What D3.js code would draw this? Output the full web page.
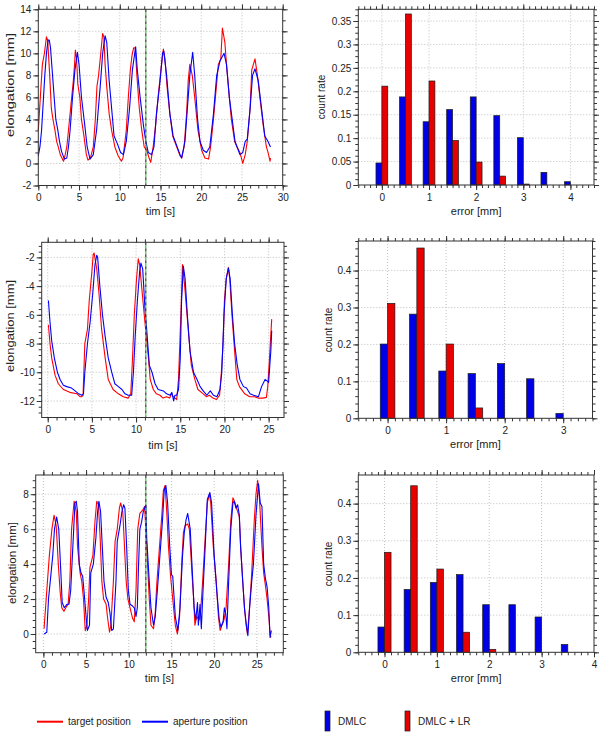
<!DOCTYPE html>
<html><head><meta charset="utf-8">
<script src="https://cdn.jsdelivr.net/npm/d3@7"></script>
<style>body{margin:0;background:#fff}</style>
</head><body><script>
// ---------- DATA ----------
const target1 = [[0,3],[0.25,6],[0.5,9],[0.75,10],[1.0,11.5],[1.15,11.2],[1.4,8],[1.6,5],[1.8,4],[2.05,3],[2.25,2],[2.45,1.5],[2.7,0.8],[2.9,0.5],[3.1,0.2],[3.3,0.8],[3.5,1.5],[3.7,3],[3.9,4.5],[4.1,6],[4.3,7.5],[4.45,9],[4.55,10.3],[4.7,9.5],[4.85,7.2],[5.1,6],[5.3,4],[5.6,2.5],[5.9,0.8],[6.1,0.3],[6.4,0.5],[6.75,1.5],[7.0,4],[7.2,7],[7.4,8],[7.6,9.5],[7.9,11.8],[8.05,11.5],[8.2,9],[8.4,7],[8.7,4.5],[9.0,3],[9.4,1.5],[9.8,0.7],[10.2,0.2],[10.4,0.5],[10.8,3],[11.05,6],[11.3,8.5],[11.5,9.8],[11.7,10.5],[11.9,10.5],[12.1,8],[12.4,5],[12.7,3],[13.0,1.5],[13.3,1.2],[13.6,0.5],[13.8,0.1],[14.1,1.5],[14.4,3.5],[14.7,6],[15.05,8.5],[15.35,10.4],[15.55,9.5],[15.8,7],[16.15,4.5],[16.5,2.5],[17.0,1.5],[17.4,0.7],[17.6,0.5],[17.9,1.5],[18.2,4.5],[18.4,7.5],[18.6,9],[18.9,8],[19.2,6],[19.6,3],[20.05,1.2],[20.45,0.5],[20.9,0.4],[21.15,1.5],[21.5,4],[21.8,6.5],[22.1,9],[22.4,9.5],[22.6,12.3],[22.9,11],[23.1,9],[23.45,6],[23.7,4],[24.1,2],[24.4,1.5],[24.75,1],[25.1,0],[25.4,0.8],[25.65,2],[26.0,5],[26.2,8.5],[26.6,9.5],[26.9,8],[27.2,6],[27.6,3.5],[28.0,1.5],[28.2,1],[28.45,0.2],[28.5,0.5]];
const aperture1 = [[0,0.7],[0.2,1.5],[0.4,3],[0.6,5.5],[0.8,8],[1.0,10],[1.2,11.2],[1.35,11.2],[1.5,10.5],[1.65,9],[1.85,7],[2.15,4],[2.4,3],[2.6,2],[2.85,1.1],[3.2,0.4],[3.5,0.5],[3.7,1.5],[3.9,3],[4.2,6],[4.5,8.5],[4.8,10.1],[5.0,9],[5.3,6],[5.7,3.5],[6.0,1.5],[6.35,0.4],[6.75,0.8],[7.15,3],[7.6,7],[7.9,10],[8.2,11.6],[8.4,11],[8.7,7.5],[9.0,5],[9.3,2.5],[9.7,1.8],[10.1,1],[10.45,0.8],[10.8,2],[11.2,5],[11.55,8.5],[11.95,10.6],[12.15,8.5],[12.5,6],[12.9,3.5],[13.2,2],[13.5,1],[13.9,0.8],[14.2,1.5],[14.5,4.5],[14.95,7.5],[15.25,10],[15.4,10.2],[15.75,8],[16.15,4.5],[16.55,2.5],[16.9,1.8],[17.4,0.8],[17.6,0.5],[18.0,2],[18.3,5],[18.6,8],[18.95,10.1],[19.2,8],[19.55,4],[19.85,2],[20.25,1.2],[20.65,1],[21.05,1.5],[21.5,4.5],[21.9,8],[22.3,9.3],[22.8,10],[23.1,9],[23.45,6],[23.8,4],[24.15,2],[24.4,1.5],[24.75,0.8],[25.1,1],[25.4,2],[25.65,2.2],[26.0,5],[26.3,8],[26.6,8.6],[27.0,7.5],[27.4,5],[27.8,2.5],[28.2,2],[28.5,1.5]];

const target2 = [[0.08,-6.7],[0.26,-8],[0.45,-9],[0.83,-10.2],[1.2,-10.8],[1.77,-11.2],[2.5,-11.4],[3.3,-11.5],[3.65,-11.7],[3.84,-11.7],[4.0,-11.6],[4.2,-8],[4.5,-7],[4.7,-5],[5.0,-3],[5.15,-1.8],[5.25,-1.7],[5.55,-2.8],[5.8,-4.5],[6.1,-7],[6.5,-9],[6.85,-10.5],[7.4,-11.2],[8.0,-11.5],[8.55,-11.7],[9.1,-11.8],[9.4,-11.5],[9.6,-9],[9.8,-6],[10.05,-3.5],[10.25,-2.1],[10.4,-2.5],[10.7,-4.5],[11.0,-6.5],[11.4,-9],[11.6,-10.5],[11.95,-11.2],[12.3,-11.5],[12.7,-11.6],[13.05,-11.8],[13.45,-11.7],[13.8,-11.8],[14.0,-11.5],[14.2,-11.7],[14.6,-11.9],[14.8,-10.5],[14.95,-8],[15.1,-5.5],[15.25,-2.5],[15.5,-4],[15.9,-7],[16.25,-9.5],[16.65,-10.5],[17.0,-11.2],[17.6,-11.5],[17.95,-11.7],[18.3,-11.6],[18.7,-11.8],[19.1,-11.9],[19.45,-11.6],[19.65,-10],[19.85,-8],[20.0,-5],[20.2,-3.5],[20.45,-2.7],[20.6,-3.5],[20.85,-6],[21.15,-8.5],[21.4,-10.5],[21.7,-11],[22.3,-11.5],[22.85,-11.7],[23.4,-11.7],[23.8,-11.8],[24.35,-11.8],[24.75,-11.75],[24.9,-11],[25.1,-9],[25.35,-6.3]];
const aperture2 = [[0.08,-5],[0.26,-6.5],[0.45,-7.8],[0.75,-9],[1.1,-10],[1.4,-10.5],[1.77,-10.9],[2.15,-11.0],[2.7,-11.1],[3.1,-11.3],[3.5,-11.5],[3.85,-11.6],[4.05,-11.5],[4.2,-10],[4.5,-8],[4.8,-6.5],[5.1,-4.5],[5.35,-2.5],[5.55,-1.85],[5.65,-2],[5.9,-4],[6.2,-6],[6.5,-7.5],[6.85,-9],[7.25,-10],[7.6,-10.8],[8.0,-11.0],[8.4,-11.2],[8.75,-11.5],[9.1,-11.6],[9.5,-11.6],[9.7,-10],[9.9,-7.5],[10.15,-5],[10.4,-3],[10.55,-2.4],[10.75,-2.8],[11.0,-5.5],[11.2,-7],[11.5,-9.5],[11.8,-10],[12.15,-10.8],[12.5,-11.2],[13.1,-11.3],[13.45,-11.5],[13.85,-11.6],[14.05,-11.4],[14.25,-12.0],[14.4,-11.6],[14.6,-11.6],[14.8,-11.2],[15.0,-9],[15.15,-5],[15.35,-2.6],[15.55,-3.5],[15.8,-6],[16.1,-8.5],[16.5,-10],[16.9,-10.5],[17.25,-11.0],[17.6,-11.3],[18.0,-11.6],[18.4,-11.3],[18.75,-11.6],[19.15,-11.7],[19.5,-11.2],[19.7,-10],[19.95,-6],[20.2,-3.5],[20.45,-2.75],[20.65,-3.5],[20.9,-6],[21.15,-8],[21.45,-9.5],[21.75,-10.5],[22.15,-11],[22.5,-11.1],[22.9,-11.5],[23.3,-11.6],[23.85,-11.7],[24.2,-11],[24.6,-10.5],[25.0,-10.7],[25.25,-8.5],[25.35,-7.1]];

const target3 = [[0.08,0.3],[0.4,2.5],[0.7,4.5],[1.0,6],[1.25,6.8],[1.5,6.2],[1.75,4],[1.95,2.5],[2.15,1.5],[2.4,1.3],[2.75,1.6],[2.9,1.7],[3.1,3],[3.3,6],[3.6,7.6],[3.85,7],[4.0,5],[4.3,3.5],[4.5,3],[4.7,2],[4.9,0.2],[5.1,0.5],[5.3,2],[5.45,3.8],[5.8,4.5],[6.05,6.5],[6.25,7.6],[6.45,7.4],[6.65,5.5],[6.85,3],[7.05,2],[7.35,1.7],[7.5,1],[7.75,0.1],[7.9,0.5],[8.2,3],[8.4,5.3],[8.65,6],[8.9,7.2],[9.05,7.5],[9.3,7],[9.45,5.5],[9.7,3],[9.9,2],[10.15,1.5],[10.45,0.9],[10.65,0.7],[10.85,2.5],[11.05,6],[11.3,6.9],[11.65,7.1],[11.85,7.3],[12.0,6],[12.2,4],[12.4,2],[12.6,0.5],[12.9,0.3],[13.1,1.2],[13.3,3],[13.6,5],[13.9,7],[14.05,8.2],[14.25,8.5],[14.45,7],[14.65,5],[14.9,3.3],[15.15,2],[15.45,0.5],[15.7,0],[15.95,1],[16.2,4],[16.4,5.8],[16.6,6.2],[16.9,6.3],[17.1,6],[17.4,3.5],[17.6,2],[17.75,0.5],[17.95,1],[18.25,0.8],[18.45,1.5],[18.65,3],[18.95,5.5],[19.2,7.5],[19.45,8],[19.6,7.5],[19.9,5],[20.25,3],[20.5,1],[20.7,0.2],[20.9,0.5],[21.15,0.8],[21.4,1.5],[21.7,4],[21.95,6.5],[22.2,7.8],[22.45,7.5],[22.75,7],[22.95,6.7],[23.1,5],[23.35,3],[23.55,1.5],[23.75,0.5],[23.9,0],[24.15,1.5],[24.4,3.5],[24.7,6.5],[24.9,8],[25.1,8.8],[25.3,7.8],[25.6,5],[25.8,3.5],[26.0,2.8],[26.2,2],[26.4,1],[26.55,0],[26.65,-0.2]];
const aperture3 = [[0.08,0],[0.4,0.1],[0.6,2],[0.8,3],[1.1,4.5],[1.3,6],[1.55,6.7],[1.8,6],[2.05,3.5],[2.2,1.8],[2.45,1.5],[2.75,1.7],[3.0,1.7],[3.2,2.5],[3.45,5],[3.7,7.5],[3.85,7.6],[4.0,7],[4.2,4],[4.4,3.5],[4.6,3.3],[4.75,2.5],[5.0,1],[5.15,0.2],[5.4,0.5],[5.55,3.5],[5.85,4],[6.15,5.5],[6.35,7],[6.5,7.6],[6.7,7],[6.9,5],[7.1,3],[7.35,2.1],[7.6,1.8],[7.8,1.2],[8.0,0.2],[8.2,0.3],[8.5,3],[8.65,5.3],[9.0,6.3],[9.2,7],[9.4,7.4],[9.55,7.2],[9.75,5],[9.95,2.5],[10.15,1.7],[10.45,1.6],[10.65,1.5],[10.85,1],[11.0,1.5],[11.15,4],[11.3,6],[11.5,6.4],[11.7,7],[12.0,7.4],[12.1,5.5],[12.4,3],[12.6,1.5],[12.9,0.5],[13.1,1],[13.35,2.5],[13.65,4.5],[13.95,6.5],[14.15,8.2],[14.35,8.5],[14.55,7.5],[14.8,5],[15.0,3.4],[15.15,3.3],[15.45,1],[15.75,0.2],[16.0,1.5],[16.3,4.5],[16.5,5.8],[16.7,6.5],[16.9,6.9],[17.2,6],[17.45,3.5],[17.65,1.5],[17.85,0.8],[18.05,1.8],[18.15,0.5],[18.35,1.7],[18.5,0.3],[18.65,2],[18.95,5],[19.2,7.7],[19.5,8.1],[19.7,7.5],[20.0,4.5],[20.3,2.5],[20.6,0.8],[20.8,0.4],[21.05,0.7],[21.2,1.5],[21.35,1.2],[21.5,0.3],[21.7,3],[21.95,6],[22.2,7.5],[22.35,7.6],[22.55,7.2],[22.75,7.4],[22.95,6.8],[23.1,5],[23.35,3],[23.55,1.5],[23.75,0.6],[23.95,-0.1],[24.15,1.5],[24.4,3],[24.6,4],[24.9,6.8],[25.1,8],[25.2,8.6],[25.4,7.5],[25.6,7.3],[25.8,4],[26.0,3.2],[26.2,2.7],[26.4,1.5],[26.55,-0.2],[26.7,0.2]];

const splitTimes = [13.2, 11.1, 12.0];

const errBins1 = [0,0.5,1,1.5,2,2.5,3,3.5,4];
const dmlc1    = [0.047,0.188,0.135,0.161,0.188,0.148,0.101,0.027,0.007];
const dmlcLR1  = [0.211,0.365,0.222,0.095,0.049,0.019,0.002,0,0];
const errBins2 = [0,0.5,1,1.5,2,2.5,3];
const dmlc2    = [0.201,0.282,0.128,0.121,0.148,0.107,0.013];
const dmlcLR2  = [0.311,0.461,0.201,0.028,0,0,0];
const errBins3 = [0,0.5,1,1.5,2,2.5,3,3.5];
const dmlc3    = [0.068,0.169,0.188,0.209,0.128,0.128,0.095,0.021];
const dmlcLR3  = [0.269,0.448,0.224,0.054,0.008,0,0,0];

const timeTicks1 = [0,5,10,15,20,25,30];
const timeTicks23 = [0,5,10,15,20,25];
const elongTicks1 = [-2,0,2,4,6,8,10,12,14];
const elongTicks2 = [-12,-10,-8,-6,-4,-2];
const elongTicks3 = [0,2,4,6,8];
const errTicks1 = [0,1,2,3,4];
const errTicks2 = [0,1,2,3];
const errTicks3 = [0,1,2,3,4];
const rateTicks1 = [0,0.05,0.1,0.15,0.2,0.25,0.3,0.35];
const rateTicks23 = [0,0.1,0.2,0.3,0.4];

const lineLegend = ["target position","aperture position"];
const barLegend = ["DMLC","DMLC + LR"];

// ---------- DRAW ----------
const RED = "#ff0000", BLUE = "#0000ff";
const BAR_BLUE = "#0000e6", BAR_RED = "#e60000";
const FONT = "'Liberation Sans', Arial, Helvetica, sans-serif";
const svg = d3.select("body").append("svg").attr("width",603).attr("height",736)
  .style("font-family", FONT);
const fmt = v => String(+v.toFixed(3));

function minorVals(dom, step){
  const a=[]; const lo=Math.min(dom[0],dom[1]), hi=Math.max(dom[0],dom[1]);
  for(let k=Math.ceil(lo/step-1e-9); k*step<=hi+1e-9; k++) a.push(+(k*step).toFixed(6));
  return a;
}
function styleAxis(sel){
  sel.select(".domain").remove();
  sel.attr("font-family", FONT).attr("font-size", 10);
  sel.selectAll("line").attr("stroke","#333");
  sel.selectAll("text").attr("fill","#222");
}

function frame(c){
  const x = d3.scaleLinear().domain(c.xDom).range([c.l,c.r]);
  const y = d3.scaleLinear().domain(c.yDom).range([c.b,c.t]);
  const g = svg.append("g");
  g.append("rect").attr("x",c.l).attr("y",c.t).attr("width",c.r-c.l).attr("height",c.b-c.t).attr("fill","#fff");
  // grid
  g.append("g").selectAll("line").data(c.xTicks.filter(v=>x(v)>c.l+1 && x(v)<c.r-1)).join("line")
    .attr("x1",d=>x(d)).attr("x2",d=>x(d)).attr("y1",c.t).attr("y2",c.b)
    .attr("stroke","#b0b0b0").attr("stroke-width",0.8).attr("stroke-dasharray","1,2");
  g.append("g").selectAll("line").data(c.yTicks.filter(v=>y(v)>c.t+1 && y(v)<c.b-1)).join("line")
    .attr("y1",d=>y(d)).attr("y2",d=>y(d)).attr("x1",c.l).attr("x2",c.r)
    .attr("stroke","#b0b0b0").attr("stroke-width",0.8).attr("stroke-dasharray","1,2");
  const xm = minorVals(c.xDom, c.xMinor), ym = minorVals(c.yDom, c.yMinor);
  // minor ticks
  g.append("g").attr("transform",`translate(0,${c.b})`).call(d3.axisBottom(x).tickValues(xm).tickSize(3).tickSizeOuter(0).tickFormat("")).call(styleAxis);
  g.append("g").attr("transform",`translate(0,${c.t})`).call(d3.axisTop(x).tickValues(xm).tickSize(3).tickSizeOuter(0).tickFormat("")).call(styleAxis);
  g.append("g").attr("transform",`translate(${c.l},0)`).call(d3.axisLeft(y).tickValues(ym).tickSize(3).tickSizeOuter(0).tickFormat("")).call(styleAxis);
  g.append("g").attr("transform",`translate(${c.r},0)`).call(d3.axisRight(y).tickValues(ym).tickSize(3).tickSizeOuter(0).tickFormat("")).call(styleAxis);
  // major ticks
  g.append("g").attr("transform",`translate(0,${c.b})`).call(d3.axisBottom(x).tickValues(c.xTicks).tickSize(5).tickPadding(3.5).tickSizeOuter(0).tickFormat(fmt)).call(styleAxis);
  g.append("g").attr("transform",`translate(0,${c.t})`).call(d3.axisTop(x).tickValues(c.xTicks).tickSize(5).tickSizeOuter(0).tickFormat("")).call(styleAxis);
  g.append("g").attr("transform",`translate(${c.l},0)`).call(d3.axisLeft(y).tickValues(c.yTicks).tickSize(5).tickPadding(2).tickSizeOuter(0).tickFormat(fmt)).call(styleAxis);
  g.append("g").attr("transform",`translate(${c.r},0)`).call(d3.axisRight(y).tickValues(c.yTicks).tickSize(5).tickSizeOuter(0).tickFormat("")).call(styleAxis);
  // titles
  g.append("text").attr("x",(c.l+c.r)/2).attr("y",c.b+c.xTitleOff).attr("text-anchor","middle")
    .attr("font-size",11).attr("fill","#222").text(c.xTitle);
  const yt = g.append("text").attr("transform",`translate(${c.yTitleX},${c.yTitleY}) rotate(-90)`)
    .attr("text-anchor","middle").attr("dy","0.35em").attr("font-size",c.yTitleSize).attr("fill","#222").text(c.yTitle);
  if(c.yTitleLen) yt.attr("textLength",c.yTitleLen).attr("lengthAdjust","spacingAndGlyphs");
  return {g,x,y,c};
}

function timePanel(c, target, aperture, split){
  const p = frame(c);
  const line = d3.line().x(d=>p.x(d[0])).y(d=>p.y(d[1]));
  const lg = p.g.append("g");
  lg.append("path").datum(target).attr("d",line).attr("fill","none").attr("stroke",RED).attr("stroke-width",1.1).attr("stroke-linejoin","round");
  lg.append("path").datum(aperture).attr("d",line).attr("fill","none").attr("stroke",BLUE).attr("stroke-width",1.1).attr("stroke-linejoin","round");
  const sx = p.x(split);
  p.g.append("line").attr("x1",sx).attr("x2",sx).attr("y1",c.t).attr("y2",c.b)
    .attr("stroke","#333").attr("stroke-width",1.2).attr("stroke-dasharray","3,3");
  p.g.append("line").attr("x1",sx).attr("x2",sx).attr("y1",c.t).attr("y2",c.b)
    .attr("stroke","#33cc33").attr("stroke-width",1.2).attr("stroke-dasharray","3,3").attr("stroke-dashoffset",3);
  p.g.append("rect").attr("x",c.l).attr("y",c.t).attr("width",c.r-c.l).attr("height",c.b-c.t)
    .attr("fill","none").attr("stroke","#333").attr("stroke-width",1);
}

function barPanel(c, bins, blue, red){
  const p = frame(c);
  const w = 0.125;
  const bg = p.g.append("g");
  const rows = bins.map((b,i)=>({b, blue:blue[i], red:red[i]}));
  bg.selectAll(".bb").data(rows.filter(d=>d.blue>0)).join("rect")
    .attr("x",d=>p.x(d.b-w)).attr("width",d=>p.x(d.b)-p.x(d.b-w))
    .attr("y",d=>p.y(d.blue)).attr("height",d=>p.y(0)-p.y(d.blue))
    .attr("fill",BAR_BLUE).attr("stroke","#1a1a1a").attr("stroke-width",0.7);
  bg.selectAll(".rb").data(rows.filter(d=>d.red>0)).join("rect")
    .attr("x",d=>p.x(d.b)).attr("width",d=>p.x(d.b+w)-p.x(d.b))
    .attr("y",d=>p.y(d.red)).attr("height",d=>p.y(0)-p.y(d.red))
    .attr("fill",BAR_RED).attr("stroke","#1a1a1a").attr("stroke-width",0.7);
  p.g.append("rect").attr("x",c.l).attr("y",c.t).attr("width",c.r-c.l).attr("height",c.b-c.t)
    .attr("fill","none").attr("stroke","#333").attr("stroke-width",1);
}

timePanel({l:38.3,r:282.7,t:9.3,b:185.5,xDom:[0,30],yDom:[-2,14],xTicks:timeTicks1,yTicks:elongTicks1,
  xMinor:1,yMinor:1,xTitle:"tim [s]",yTitle:"elongation [mm]",xTitleOff:29.5,yTitleX:10,yTitleY:85,yTitleSize:11,yTitleLen:104},
  target1, aperture1, splitTimes[0]);
barPanel({l:358.3,r:594,t:9.3,b:185,xDom:[-0.5,4.5],yDom:[0,0.375],xTicks:errTicks1,yTicks:rateTicks1,
  xMinor:0.125,yMinor:0.0125,xTitle:"error [mm]",yTitle:"count rate",xTitleOff:29.5,yTitleX:321.7,yTitleY:97,yTitleSize:10},
  errBins1, dmlc1, dmlcLR1);

timePanel({l:41.7,r:284,t:242.3,b:417.5,xDom:[-0.68,26.74],yDom:[-13.15,-0.95],xTicks:timeTicks23,yTicks:elongTicks2,
  xMinor:1,yMinor:0.4,xTitle:"tim [s]",yTitle:"elongation [mm]",xTitleOff:31.5,yTitleX:10,yTitleY:326,yTitleSize:11,yTitleLen:92},
  target2, aperture2, splitTimes[1]);
barPanel({l:358.3,r:592.5,t:241,b:418.3,xDom:[-0.5,3.5],yDom:[0,0.48],xTicks:errTicks2,yTicks:rateTicks23,
  xMinor:0.125,yMinor:0.02,xTitle:"error [mm]",yTitle:"count rate",xTitleOff:30,yTitleX:328,yTitleY:330,yTitleSize:10},
  errBins2, dmlc2, dmlcLR2);

timePanel({l:35.7,r:283.3,t:475,b:652.7,xDom:[-0.9,28.1],yDom:[-1.07,9.1],xTicks:timeTicks23,yTicks:elongTicks3,
  xMinor:1,yMinor:0.4,xTitle:"tim [s]",yTitle:"elongation [mm]",xTitleOff:29.5,yTitleX:11.7,yTitleY:563,yTitleSize:11,yTitleLen:82},
  target3, aperture3, splitTimes[2]);
barPanel({l:358.3,r:594,t:475,b:652.3,xDom:[-0.5,4],yDom:[0,0.477],xTicks:errTicks3,yTicks:rateTicks23,
  xMinor:0.125,yMinor:0.02,xTitle:"error [mm]",yTitle:"count rate",xTitleOff:29.5,yTitleX:328,yTitleY:564,yTitleSize:10},
  errBins3, dmlc3, dmlcLR3);

// ---------- LEGEND ----------
const leg = svg.append("g").attr("font-size",10).attr("fill","#222");
const lineCols = [RED, BLUE], lineX = [37, 142];
lineLegend.forEach((t,i)=>{
  leg.append("line").attr("x1",lineX[i]).attr("x2",lineX[i]+26).attr("y1",721.7).attr("y2",721.7)
    .attr("stroke",lineCols[i]).attr("stroke-width",2);
  leg.append("text").attr("x",lineX[i]+31).attr("y",725.2).text(t);
});
const barCols = [BAR_BLUE, BAR_RED], barX = [325, 405];
barLegend.forEach((t,i)=>{
  leg.append("rect").attr("x",barX[i]).attr("y",711).attr("width",5).attr("height",20)
    .attr("fill",barCols[i]).attr("stroke","#1a1a1a").attr("stroke-width",0.7);
  leg.append("text").attr("x",barX[i]+13).attr("y",725.2).text(t);
});
</script></body></html>
